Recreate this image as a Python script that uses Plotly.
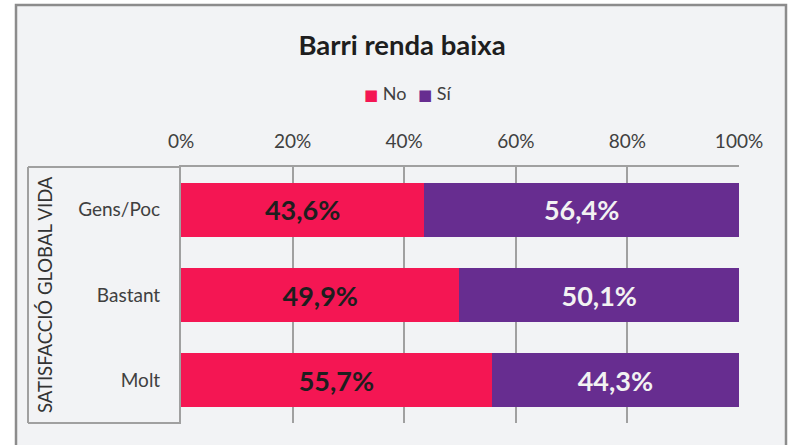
import plotly.graph_objects as go

categories = ["Gens/Poc", "Bastant", "Molt"]
no_values = [43.6, 49.9, 55.7]
si_values = [56.4, 50.1, 44.3]
series_names = ["No", "Sí"]
tick_values = [0, 20, 40, 60, 80, 100]
tick_labels = ["0%", "20%", "40%", "60%", "80%", "100%"]

W, H = 788, 445
L, R, T, B = 181, 739, 167, 423

def px(x):
    return (x - L) / (R - L)

def py(y):
    return (B - y) / (B - T)

def fmt(v):
    return f"{v:.1f}".replace(".", ",") + "%"

FONT = "Lato, Open Sans, sans-serif"
PINK = "#F41653"
PURPLE = "#672D90"
GRID = "#A0A0A0"
COLORS = [PINK, PURPLE]

fig = go.Figure()
fig.add_trace(go.Bar(
    name=series_names[0], y=categories, x=no_values, orientation="h",
    marker=dict(color=PINK, line=dict(width=0)),
    text=[fmt(v) for v in no_values], textposition="inside",
    insidetextanchor="middle",
    textfont=dict(family=FONT, size=27, color="#1E1E1E", weight="bold"),
    hoverinfo="skip", showlegend=False,
))
fig.add_trace(go.Bar(
    name=series_names[1], y=categories, x=si_values, orientation="h",
    marker=dict(color=PURPLE, line=dict(width=0)),
    text=[fmt(v) for v in si_values], textposition="inside",
    insidetextanchor="middle",
    textfont=dict(family=FONT, size=27, color="#F2F2F2", weight="bold"),
    hoverinfo="skip", showlegend=False,
))

shapes = [
    dict(type="rect", xref="paper", yref="paper", layer="below",
         x0=px(16), x1=px(786), y0=py(470), y1=py(5),
         fillcolor="#F2F3F5", line=dict(color="#8C8C8C", width=2.5)),
    dict(type="line", xref="paper", yref="paper", layer="above",
         x0=px(28), x1=px(181), y0=py(167), y1=py(167),
         line=dict(color=GRID, width=2)),
    dict(type="line", xref="paper", yref="paper", layer="above",
         x0=px(28), x1=px(28), y0=py(167), y1=py(423),
         line=dict(color=GRID, width=2)),
    dict(type="line", xref="paper", yref="paper", layer="above",
         x0=px(28), x1=px(181), y0=py(423), y1=py(423),
         line=dict(color=GRID, width=2)),
]

legend_x = [362, 416]
annotations = [dict(text="SATISFACCIÓ GLOBAL VIDA", xref="paper", yref="paper",
                    x=px(45), y=py(295), textangle=-90, showarrow=False,
                    xanchor="center", yanchor="middle",
                    font=dict(family=FONT, size=18.5, color="#333333"))]
for name, col, lx in zip(series_names, COLORS, legend_x):
    annotations.append(dict(
        text=f"<span style='color:{col};font-size:15px;font-family:DejaVu Sans'>■</span> {name}",
        xref="paper", yref="paper", x=px(lx), y=py(93), showarrow=False,
        xanchor="left", yanchor="middle",
        font=dict(family=FONT, size=18, color="#404040")))

fig.update_layout(
    width=W, height=H,
    margin=dict(l=L, r=W - R, t=T, b=H - B, pad=0),
    paper_bgcolor="white",
    plot_bgcolor="rgba(0,0,0,0)",
    barmode="stack",
    bargap=0.365,
    showlegend=False,
    font=dict(family=FONT, color="#404040"),
    title=dict(text="<b>Barri renda baixa</b>", xref="container", yref="container",
               x=402 / W, y=1 - 45 / H, xanchor="center", yanchor="middle",
               font=dict(family=FONT, size=27.5, color="#1E1E1E")),
    shapes=shapes,
    annotations=annotations,
    xaxis=dict(side="top", range=[0, 100], tickvals=tick_values, ticktext=tick_labels,
               showgrid=True, gridcolor=GRID, gridwidth=2,
               showline=True, linecolor=GRID, linewidth=2,
               zeroline=False, ticks="", ticklabelstandoff=9,
               tickfont=dict(family=FONT, size=19, color="#404040"),
               fixedrange=True),
    yaxis=dict(categoryorder="array", categoryarray=categories, autorange="reversed",
               showline=True, linecolor=GRID, linewidth=2, showgrid=False,
               ticks="", ticklabelstandoff=15,
               tickfont=dict(family=FONT, size=19, color="#404040"),
               fixedrange=True),
)

fig.write_html("out.html", config={"displayModeBar": False},
               post_script="document.body.style.margin='0';")
